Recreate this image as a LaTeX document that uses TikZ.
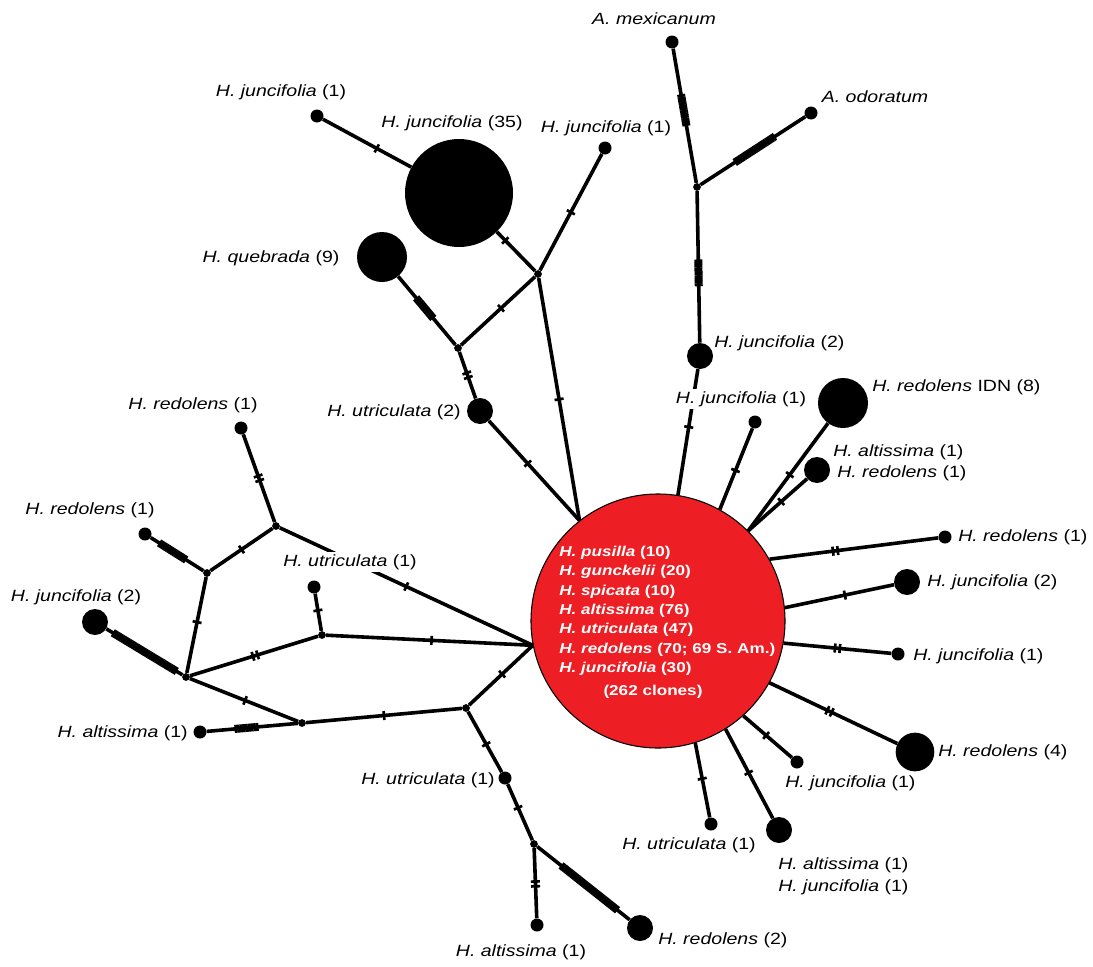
\documentclass[tikz,border=0pt]{standalone}
\usepackage{fontspec}
\setmainfont{Liberation Sans}[FakeStretch=1.2]
\usetikzlibrary{decorations.markings}
\definecolor{hubred}{RGB}{237,30,36}
\newcommand\labfont{\fontsize{12.2}{14}\selectfont}
\newcommand\ctfont{\fontsize{10.7}{14.5}\selectfont\bfseries}
\begin{document}
\begin{tikzpicture}[x=0.75pt,y=-0.75pt,
  edge/.style={line width=2.7pt},
  tkline/.style={line width=2pt},
  tk/.style={postaction={decorate,decoration={markings,mark=at position #1 with {\draw[tkline] (0,-3.4pt)--(0,3.4pt);}}}},
  dbl/.style={postaction={decorate,decoration={markings,mark=at position #1 with {\draw[tkline] (-1.8pt,-3.4pt)--(-1.8pt,3.4pt) (1.8pt,-3.4pt)--(1.8pt,3.4pt);}}}},
  blk/.style 2 args={postaction={decorate,decoration={markings,mark=between positions #1 and #2 step 2pt with {\draw[line width=2.1pt] (0,-3pt)--(0,3pt);}}}},
  hap/.style={circle,fill=black,inner sep=0pt,minimum size=#1},
  sm/.style={hap=9.75pt},
  md/.style={hap=19.5pt},
  mv/.style={circle,fill=black,inner sep=0pt,minimum size=5.8pt},
  hub/.style={circle,fill=hubred,draw=black,line width=0.8pt,inner sep=0pt,minimum size=190.5pt},
  lab/.style={font=\labfont,inner sep=0pt}
]
\useasboundingbox (0,0) rectangle (1093,967);

% ---- haplotypes and median vectors
\node[hub] (C) at (658,621) {};
\node[hap=81pt] (J35) at (459,193) {};
\node[sm] (jtl) at (317,116) {};
\node[sm] (jtm) at (605,148) {};
\node[mv] (A) at (538,274) {};
\node[hap=37.5pt] (Q) at (382,257) {};
\node[mv] (B) at (458,348) {};
\node[md] (U2) at (480,411) {};
\node[sm] (AM) at (672,42) {};
\node[sm] (AO) at (811,113) {};
\node[mv] (D) at (697,187) {};
\node[md] (J2) at (700,356) {};
\node[sm] (J1a) at (755,422) {};
\node[hap=37.5pt] (IDN) at (843,403) {};
\node[md] (AR) at (817,470) {};
\node[sm] (R1) at (945,537) {};
\node[md] (J2r) at (907,582) {};
\node[sm] (J1r) at (898,654) {};
\node[hap=29pt] (R4) at (915,752) {};
\node[sm] (J1b) at (797,762) {};
\node[md] (AJ) at (779,830) {};
\node[sm] (U1b) at (711,824) {};
\node[sm] (Rt) at (241,428) {};
\node[mv] (E) at (276,526) {};
\node[sm] (Rm) at (145,534) {};
\node[mv] (F) at (207,573) {};
\node[md] (JL) at (95,622) {};
\node[mv] (G) at (186,677) {};
\node[sm] (Um) at (314,587) {};
\node[mv] (H) at (322,635) {};
\node[mv] (I) at (302,723) {};
\node[sm] (AL) at (200,732) {};
\node[mv] (Jn) at (466,708) {};
\node[sm] (Ub) at (505,778) {};
\node[mv] (K) at (534,844) {};
\node[sm] (Ab) at (537,925) {};
\node[md] (R2) at (640,928) {};

% ---- connectors
\draw[edge,tk=0.61] (jtl) -- (J35);
\draw[edge,tk=0.22] (J35) -- (A);
\draw[edge,tk=0.5] (A) -- (jtm);
\draw[edge,tk=0.46] (A) -- (B);
\draw[edge,tk=0.5] (A) -- (C.128);
\draw[edge,blk={0.33}{0.6}] (Q) -- (B);
\draw[edge,dbl=0.5] (B) -- (U2);
\draw[edge,tk=0.43] (U2) -- (C.128);
\draw[edge,blk={0.35}{0.58}] (AM) -- (D);
\draw[edge,blk={0.3}{0.68}] (AO) -- (D);
\draw[edge,blk={0.46}{0.63}] (D) -- (J2);
\draw[edge,tk=0.46] (J2) -- (C.81);
\draw[edge,tk=0.52] (J1a) -- (C.61);
\draw[edge,tk=0.48] (IDN) -- (C.45);
\draw[edge,tk=0.44] (AR) -- (C.45);
\draw[edge,dbl=0.39] (C.29) -- (R1);
\draw[edge,tk=0.55] (C.6) -- (J2r);
\draw[edge,dbl=0.5] (C.350) -- (J1r);
\draw[edge,dbl=0.47] (C.331) -- (R4);
\draw[edge,tk=0.47] (C.312) -- (J1b);
\draw[edge,tk=0.49] (C.302) -- (AJ);
\draw[edge,tk=0.48] (C.287) -- (U1b);
\draw[edge,dbl=0.5] (Rt) -- (E);
\draw[edge,tk=0.5] (E) -- (F);
\draw[edge,blk={0.18}{0.66}] (Rm) -- (F);
\draw[edge,tk=0.47] (F) -- (G);
\draw[edge,blk={0.1}{0.92}] (JL) -- (G);
\draw[edge,dbl=0.51] (G) -- (H);
\draw[edge,tk=0.45] (Um) -- (H);
\draw[edge,tk=0.51] (H) -- (C.191);
\draw[edge,tk=0.5] (E) -- (C.191);
\draw[edge,tk=0.51] (G) -- (I);
\draw[edge,blk={0.32}{0.56}] (AL) -- (I);
\draw[edge,tk=0.5] (I) -- (Jn);
\draw[edge,tk=0.52] (Jn) -- (C.191);
\draw[edge,tk=0.54] (Jn) -- (Ub);
\draw[edge,tk=0.42] (Ub) -- (K);
\draw[edge,dbl=0.51] (K) -- (Ab);
\draw[edge,blk={0.27}{0.86}] (K) -- (R2);

% ---- text in the central haplotype
\node[anchor=north west,align=left,inner sep=0pt,font=\ctfont,text=white] (ct) at (559,546)
 {\textit{H. pusilla} (10)\\ \textit{H. gunckelii} (20)\\ \textit{H. spicata} (10)\\ \textit{H. altissima} (76)\\
  \textit{H. utriculata} (47)\\ \textit{H. redolens} (70; 69 S. Am.)\\ \textit{H. juncifolia} (30)};
\node[font=\ctfont,text=white,inner sep=0pt] (cc) at (653,692) {(262 clones)};

% ---- labels
\node[lab] (l1) at (281,92) {\textit{H. juncifolia} (1)};
\node[lab] (l2) at (452,123) {\textit{H. juncifolia} (35)};
\node[lab] (l3) at (606,128) {\textit{H. juncifolia} (1)};
\node[lab] (l4) at (271,258) {\textit{H. quebrada} (9)};
\node[lab] (l5) at (654,19) {\textit{A. mexicanum}};
\node[lab] (l6) at (875,97) {\textit{A. odoratum}};
\node[lab,anchor=west] (l7) at (714,343) {\textit{H. juncifolia} (2)};
\node[lab,fill=white,inner sep=2pt] (l8) at (741,399) {\textit{H. juncifolia} (1)};
\node[lab,anchor=west] (l9) at (872,387) {\textit{H. redolens} IDN (8)};
\node[lab,anchor=west] (l10) at (833,452) {\textit{H. altissima} (1)};
\node[lab,anchor=west] (l11) at (837,473) {\textit{H. redolens} (1)};
\node[lab,anchor=west] (l12) at (958,537) {\textit{H. redolens} (1)};
\node[lab,anchor=west] (l13) at (927,582) {\textit{H. juncifolia} (2)};
\node[lab,anchor=west] (l14) at (913,656) {\textit{H. juncifolia} (1)};
\node[lab,anchor=west] (l15) at (938,752) {\textit{H. redolens} (4)};
\node[lab,anchor=west] (l16) at (785,783) {\textit{H. juncifolia} (1)};
\node[lab,anchor=west] (l17) at (622,845) {\textit{H. utriculata} (1)};
\node[lab,anchor=west] (l18) at (778,865) {\textit{H. altissima} (1)};
\node[lab,anchor=west] (l19) at (778,887) {\textit{H. juncifolia} (1)};
\node[lab,anchor=west] (l20) at (658,940) {\textit{H. redolens} (2)};
\node[lab] (l21) at (521,952) {\textit{H. altissima} (1)};
\node[lab,anchor=east] (l22) at (495,780) {\textit{H. utriculata} (1)};
\node[lab,anchor=east] (l23) at (188,733) {\textit{H. altissima} (1)};
\node[lab] (l24) at (76,597) {\textit{H. juncifolia} (2)};
\node[lab] (l25) at (90,510) {\textit{H. redolens} (1)};
\node[lab] (l26) at (193,405) {\textit{H. redolens} (1)};
\node[lab,fill=white,inner sep=2pt] (l27) at (350,562) {\textit{H. utriculata} (1)};
\node[lab,anchor=east] (l28) at (461,412) {\textit{H. utriculata} (2)};
\end{tikzpicture}
\end{document}
